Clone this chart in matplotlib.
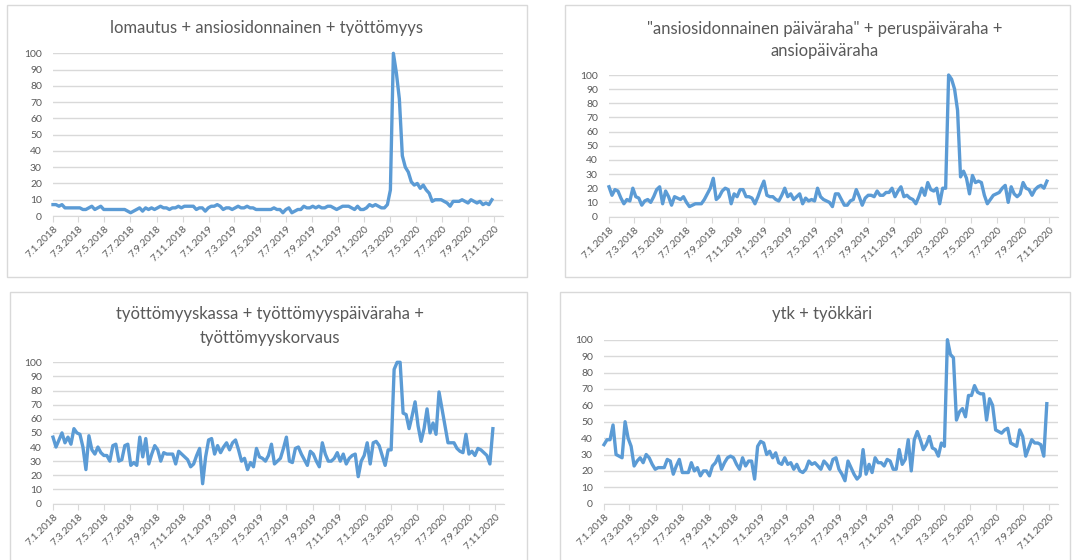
import matplotlib
matplotlib.use('Agg')
import matplotlib.pyplot as plt
import matplotlib.ticker as ticker
from matplotlib.patches import Rectangle
import pandas as pd

plt.rcParams['font.family'] = ['Lato', 'DejaVu Sans']

# viikot 7.1.2018 - 1.11.2020 (Google Trends, 0-100)
weeks = pd.date_range('2018-01-07', periods=148, freq='7D')

tick_labels = ['7.1.2018', '7.3.2018', '7.5.2018', '7.7.2018', '7.9.2018', '7.11.2018',
               '7.1.2019', '7.3.2019', '7.5.2019', '7.7.2019', '7.9.2019', '7.11.2019',
               '7.1.2020', '7.3.2020', '7.5.2020', '7.7.2020', '7.9.2020', '7.11.2020']

lomautus = [7, 7, 6, 7, 5, 5, 5, 5, 5,
            5, 4, 4, 5, 6, 4, 5, 6, 4,
            4, 4, 4, 4, 4, 4,
            4, 3, 2, 3, 4, 5, 3, 5, 4, 5, 4, 5,
            6, 5, 5, 4, 5, 5, 6, 5, 6, 6, 6, 6,
            4, 5, 5, 3, 5, 6, 6, 7, 6, 4, 5, 5,
            4, 5, 6, 5, 5, 6, 5, 5, 4, 4, 4, 4,
            4, 4, 5, 4, 4, 2, 4, 5, 2, 3, 4, 4,
            6, 5, 5, 6, 5, 6, 5, 5, 6, 6, 5, 4,
            5, 6, 6, 6, 5, 4, 6, 4, 4, 5, 7, 6,
            7, 6, 5, 5, 7, 16,
            100, 88, 72, 37, 30, 27, 21, 19, 20, 17, 19, 16,
            14, 9, 10, 10, 10, 9, 8, 6, 9, 9, 9, 10,
            9, 8, 10, 9, 8, 9, 7, 8, 7, 10]

ansio = [21, 15, 19, 18, 13, 9, 12, 11, 20, 14, 13, 8,
         11, 12, 10, 14, 19, 21, 9, 18, 14, 8, 14, 13,
         12, 14, 10, 7, 8, 9, 9, 9, 12, 16, 20, 27,
         12, 14, 18, 20, 19, 9, 16, 14, 19, 19, 14, 14,
         13, 9, 14, 20, 25, 15, 14, 14, 12, 11, 15, 20,
         14, 16, 12, 14, 16, 9, 13, 11, 12, 11, 20, 14,
         12, 11, 10, 7, 16, 16, 12, 8, 8, 11, 12, 19,
         14, 8, 13, 15, 15, 14, 18, 15, 15, 17, 17, 20,
         14, 18, 21, 14, 15, 13, 12, 9, 14, 20, 15, 24,
         19, 18, 20, 9, 20, 20,
         100, 97, 90, 75, 28, 32, 27, 16, 29, 24, 25, 24,
         15, 9, 12, 15, 16, 17, 20, 22, 10, 21, 16, 14,
         16, 24, 20, 19, 15, 19, 21, 22, 20, 25]

tyottomyys = [47, 40, 45, 50, 43, 47, 42, 53, 50, 49, 40, 24,
              48, 38, 35, 40, 36, 34, 34, 30, 41, 42, 30, 31,
              41, 42, 27, 29, 27, 47, 33, 46, 28, 35, 41, 38,
              30, 36, 35, 35, 35, 28, 37, 35, 33, 31, 26, 28,
              34, 39, 14, 33, 45, 46, 35, 41, 36, 40, 43, 38,
              43, 45, 38, 30, 32, 24, 29, 26, 39, 33, 32, 30,
              34, 42, 28, 30, 32, 39, 47, 30, 29, 39, 40, 35,
              31, 27, 37, 35, 30, 26, 43, 35, 30, 30, 32, 36,
              30, 35, 28, 32, 34, 35, 19, 30, 34, 43, 28, 43,
              44, 41, 34, 27, 38, 38,
              95, 100, 100, 64, 63, 53, 62, 72, 55, 44, 53, 67,
              50, 57, 49, 79, 67, 55, 43, 43, 43, 39, 37, 36,
              49, 35, 37, 34, 39, 38, 36, 34, 28, 53]

ytk = [36, 39, 39, 48, 30, 29, 28, 50, 40, 35, 23, 26,
       28, 25, 30, 28, 24, 21, 22, 22, 22, 27, 26, 18,
       23, 27, 19, 19, 19, 25, 20, 22, 17, 20, 20, 17,
       23, 25, 29, 21, 25, 28, 29, 28, 24, 21, 28, 23,
       26, 26, 15, 35, 38, 37, 30, 32, 28, 31, 25, 24,
       28, 24, 25, 21, 24, 20, 19, 21, 26, 24, 25, 23,
       21, 26, 24, 21, 27, 28, 21, 18, 14, 26, 22, 18,
       15, 17, 33, 18, 24, 19, 28, 25, 25, 23, 27, 26,
       21, 21, 33, 24, 27, 39, 20, 39, 44, 39, 33, 36,
       41, 34, 33, 29, 37, 35,
       100, 91, 89, 51, 56, 58, 53, 66, 66, 72, 68, 67,
       67, 51, 64, 60, 45, 44, 43, 45, 46, 37, 36, 35,
       45, 41, 29, 34, 39, 37, 37, 36, 29, 61]

W, H = 1073, 560
fig = plt.figure(figsize=(W / 100, H / 100), dpi=100)

grey = '#595959'
blue = '#5b9bd5'
ticks = pd.to_datetime(tick_labels, format='%d.%m.%Y')
x_end = weeks[0] + pd.Timedelta(days=1055)

# (arvot, otsikkorivit [(teksti, y)], otsikon x, plot-alue px: x0, x1, ytop, ybot, kehys px)
panels = [
    (lomautus, [('lomautus + ansiosidonnainen + työttömyys', 27.5)], 267,
     (53, 503, 53.3, 216), (7, 5, 527, 277)),
    (ansio, [('"ansiosidonnainen päiväraha" + peruspäiväraha +', 29), ('ansiopäiväraha', 51)], 825,
     (609, 1058, 75, 216.5), (565, 5, 1070, 277)),
    (tyottomyys, [('työttömyyskassa + työttömyyspäiväraha +', 314), ('työttömyyskorvaus', 338)], 270,
     (53, 504, 362.3, 503.5), (10, 292, 527, 570)),
    (ytk, [('ytk + työkkäri', 314)], 822,
     (604, 1058, 339.7, 503.7), (560, 292, 1070, 570)),
]

for vals, title, tx, (x0, x1, yt, yb), (bx0, by0, bx1, by1) in panels:
    fig.patches.append(Rectangle((bx0 / W, 1 - by1 / H), (bx1 - bx0) / W, (by1 - by0) / H,
                                 transform=fig.transFigure, fill=False,
                                 edgecolor='#d9d9d9', lw=1))
    for line, ty in title:
        fig.text(tx / W, 1 - ty / H, line, ha='center', va='center',
                 fontsize=12, color=grey)

    ax = fig.add_axes([x0 / W, 1 - yb / H, (x1 - x0) / W, (yb - yt) / H])
    ax.plot(weeks, vals, color=blue, lw=2.4, clip_on=False, solid_joinstyle='round')
    ax.set_xlim(weeks[0], x_end)
    ax.set_ylim(0, 100)
    ax.yaxis.set_major_locator(ticker.MultipleLocator(10))
    ax.yaxis.grid(True, color='#d9d9d9', lw=1)
    ax.set_axisbelow(True)
    for s in ['top', 'right', 'left']:
        ax.spines[s].set_visible(False)
    ax.spines['bottom'].set_color('#d9d9d9')
    ax.set_xticks(ticks)
    ax.set_xticklabels(tick_labels, rotation=45, ha='right', rotation_mode='anchor',
                       fontsize=7.5, color=grey)
    ax.tick_params(axis='x', length=4, color='#d9d9d9', pad=2)
    ax.tick_params(axis='y', length=0, pad=8, labelsize=7.5, labelcolor=grey)

fig.savefig('out.png', dpi=100, facecolor='white')
